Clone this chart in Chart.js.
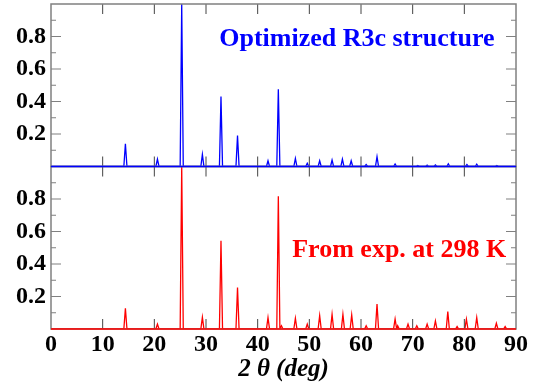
<!DOCTYPE html>
<html>
<head>
<meta charset="utf-8">
<script src="https://cdn.jsdelivr.net/npm/chart.js@4.4.1/dist/chart.umd.min.js"></script>
<style>
  body { margin: 0; background: #fff; }
  #wrap { position: relative; width: 536px; height: 388px; }
</style>
</head>
<body>
<div id="wrap"><canvas id="xrdChart"></canvas></div>
<script>
// peak positions (2 theta, deg) and relative intensities
const optPeaks = [14.4, 20.6, 25.3, 29.3, 32.9, 36.1, 42.0, 44.0, 47.3, 49.6, 52.0, 54.4, 56.4, 58.1, 61.0, 63.1, 66.6, 71.0, 72.8, 74.4, 76.9, 80.5, 82.4, 86.3];
const optHeights = [0.14, 0.045, 1.0, 0.075, 0.43, 0.19, 0.035, 0.475, 0.05, 0.02, 0.035, 0.04, 0.045, 0.035, 0.012, 0.06, 0.015, 0.006, 0.008, 0.01, 0.017, 0.012, 0.014, 0.006];

const expPeaks = [14.4, 20.6, 25.3, 29.3, 32.9, 36.1, 42.0, 44.0, 44.6, 47.3, 49.6, 52.0, 54.4, 56.5, 58.2, 61.0, 63.1, 66.6, 67.1, 69.1, 70.8, 72.8, 74.4, 76.8, 78.6, 80.4, 82.4, 86.2, 87.9];
const expHeights = [0.128, 0.03, 1.0, 0.072, 0.543, 0.255, 0.07, 0.817, 0.02, 0.066, 0.03, 0.082, 0.09, 0.09, 0.087, 0.02, 0.154, 0.062, 0.02, 0.03, 0.02, 0.03, 0.05, 0.107, 0.015, 0.06, 0.07, 0.035, 0.015];

const xTicks = [0, 10, 20, 30, 40, 50, 60, 70, 80, 90];
const yLabels = [0.2, 0.4, 0.6, 0.8];

const serif = "'Liberation Serif', 'Times New Roman', serif";

// turn each peak into a narrow spike on a zero baseline
function spectrum(pos, hts) {
  const pts = [{x: 0, y: 0}];
  pos.forEach((p, i) => {
    pts.push({x: p - 0.3, y: 0});
    pts.push({x: p, y: hts[i]});
    pts.push({x: p + 0.3, y: 0});
  });
  pts.push({x: 90, y: 0});
  return pts;
}

function yAxis() {
  return {
    type: 'linear',
    position: 'left',
    stack: 'panels',
    stackWeight: 1,
    min: 0, max: 1,
    grid: { display: false, drawTicks: false },
    border: { display: false },
    ticks: {
      stepSize: 0.1,
      autoSkip: false,
      padding: 5,
      color: '#000',
      font: { family: serif, size: 24, weight: 'bold' },
      callback: v => yLabels.some(l => Math.abs(l - v) < 1e-6) ? v.toFixed(1) : ''
    },
    afterFit: s => { s.width = 51; s.paddingTop = 0; s.paddingBottom = 0; }
  };
}

// frames, inward ticks and panel captions
const framePlugin = {
  id: 'frames',
  afterDatasetsDraw(chart) {
    const ctx = chart.ctx;
    const xs = chart.scales.x;
    const a = chart.chartArea;
    ctx.save();
    ['yTop', 'yBot'].forEach(id => {
      const ys = chart.scales[id];
      const top = ys.getPixelForValue(1), bot = ys.getPixelForValue(0);
      ctx.strokeStyle = '#808080';
      ctx.lineWidth = 1.2;
      for (let k = 1; k < 10; k++) {
        const yy = ys.getPixelForValue(k / 10);
        const len = k % 2 === 0 ? 10 : 5;
        ctx.beginPath();
        ctx.moveTo(a.left, yy); ctx.lineTo(a.left + len, yy);
        ctx.moveTo(a.right, yy); ctx.lineTo(a.right - len, yy);
        ctx.stroke();
      }
      ctx.strokeStyle = '#444';
      ctx.lineWidth = 1;
      xTicks.slice(1, -1).forEach(t => {
        const xx = xs.getPixelForValue(t);
        ctx.beginPath();
        ctx.moveTo(xx, top); ctx.lineTo(xx, top + 10);
        ctx.moveTo(xx, bot); ctx.lineTo(xx, bot - 10);
        ctx.stroke();
      });
      ctx.strokeStyle = '#808080';
      ctx.lineWidth = 1.5;
      ctx.strokeRect(a.left, top, a.right - a.left, bot - top);
    });
    // baselines drawn again over the frame
    chart.getSortedVisibleDatasetMetas().forEach(m => {
      const ys = chart.scales[m.yAxisID];
      const yy = ys.getPixelForValue(0);
      ctx.strokeStyle = m._dataset.borderColor;
      ctx.lineWidth = 1.3;
      ctx.beginPath();
      ctx.moveTo(a.left, yy); ctx.lineTo(a.right, yy);
      ctx.stroke();
    });
    ctx.font = 'bold 26px ' + serif;
    ctx.textAlign = 'center';
    ctx.textBaseline = 'alphabetic';
    ctx.fillStyle = '#0000ff';
    ctx.fillText('Optimized R3c structure', xs.getPixelForValue(59.2), chart.scales.yTop.getPixelForValue(0.739));
    ctx.fillStyle = '#ff0000';
    ctx.fillText('From exp. at 298 K', xs.getPixelForValue(67.4), chart.scales.yBot.getPixelForValue(0.445));
    ctx.restore();
  }
};

new Chart(document.getElementById('xrdChart'), {
  type: 'line',
  data: {
    datasets: [
      {
        label: 'Optimized R3c structure',
        data: spectrum(optPeaks, optHeights),
        yAxisID: 'yTop',
        borderColor: '#0000ff',
        borderWidth: 1.3,
        pointRadius: 0,
        tension: 0
      },
      {
        label: 'From exp. at 298 K',
        data: spectrum(expPeaks, expHeights),
        yAxisID: 'yBot',
        borderColor: '#ff0000',
        borderWidth: 1.3,
        pointRadius: 0,
        tension: 0
      }
    ]
  },
  options: {
    responsive: true,
    maintainAspectRatio: false,
    animation: false,
    parsing: false,
    layout: { padding: { top: 4, right: 20, left: 0, bottom: 0 } },
    plugins: { legend: { display: false }, tooltip: { enabled: false } },
    scales: {
      x: {
        type: 'linear',
        min: 0, max: 90,
        grid: { display: false, drawTicks: false },
        border: { display: false },
        ticks: {
          stepSize: 10,
          padding: 1,
          color: '#000',
          maxRotation: 0,
          font: { family: serif, size: 24, weight: 'bold' }
        },
        title: {
          display: true,
          text: '2 θ (deg)',
          color: '#000',
          padding: { top: 0, bottom: 3 },
          font: { family: serif, size: 25, weight: 'bold', style: 'italic' }
        },
        afterFit: s => { s.height = 59; s.paddingLeft = 0; s.paddingRight = 0; }
      },
      // stacked axes: the first listed sits at the bottom
      yBot: yAxis(),
      yTop: yAxis()
    }
  },
  plugins: [framePlugin]
});
</script>
</body>
</html>
